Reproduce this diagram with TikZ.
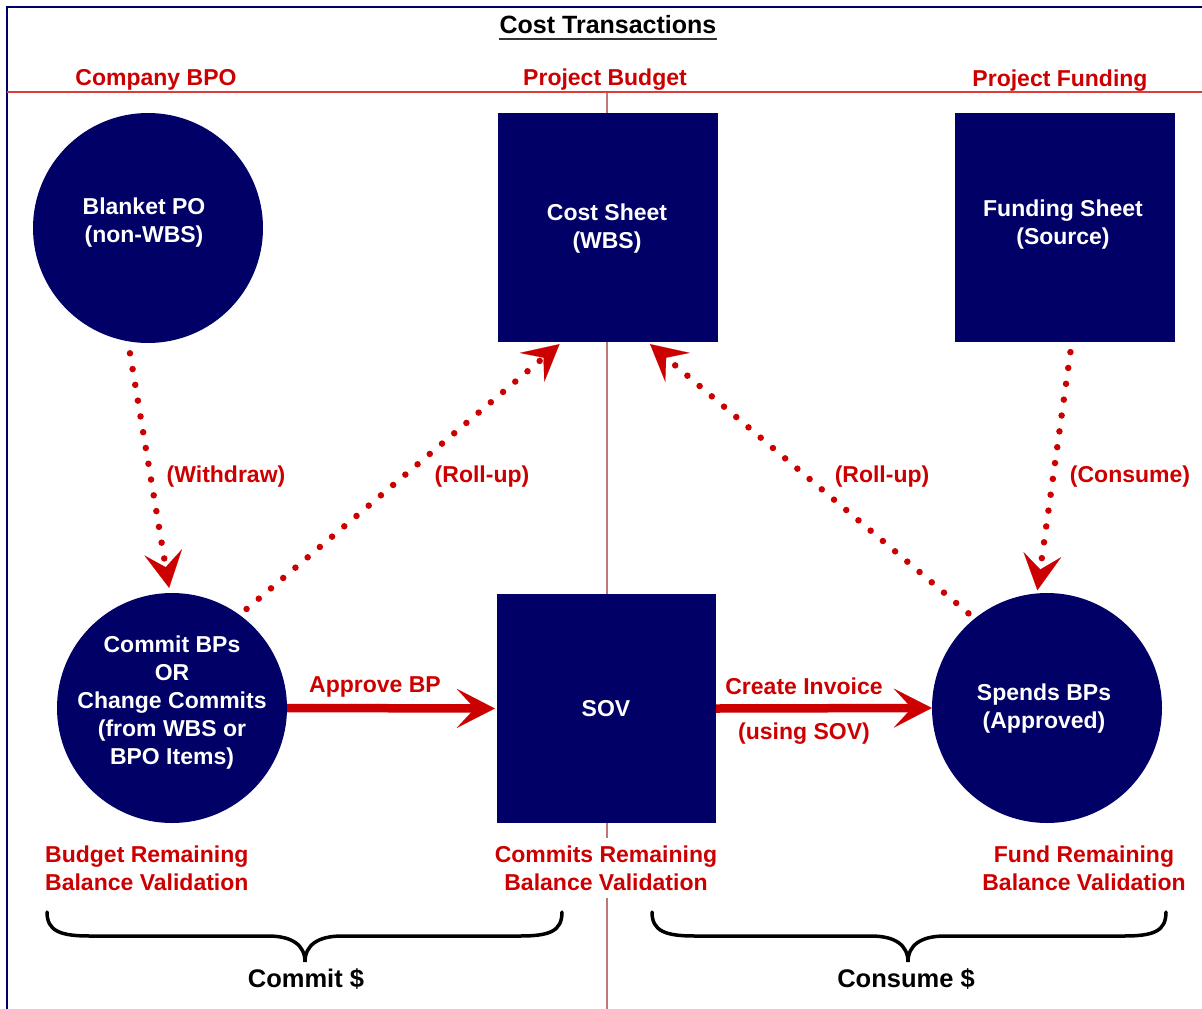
\documentclass[tikz,border=0pt]{standalone}
\usepackage{fontspec}
\setmainfont{Liberation Sans}
\usetikzlibrary{arrows.meta,calc}
\definecolor{navy}{RGB}{0,0,102}
\definecolor{rd}{RGB}{204,0,0}
\definecolor{rline}{RGB}{220,60,60}
\definecolor{vline}{RGB}{190,120,120}
\begin{document}
\begin{tikzpicture}[x=1pt,y=-1pt,
 shapebox/.style={rectangle, fill=navy, draw=none, inner sep=0pt, minimum width=220pt, minimum height=229pt},
 shapecirc/.style={circle, fill=navy, draw=none, inner sep=0pt, minimum size=230pt},
 wtxt/.style={text=white, font=\fontsize{23}{28}\selectfont\bfseries, align=center, inner sep=0pt, yshift=-3pt},
 rtxt/.style={text=rd, font=\fontsize{23}{28}\selectfont\bfseries, align=center, inner sep=0pt, yshift=-3pt},
 btxt/.style={text=black, font=\fontsize{25.5}{30}\selectfont\bfseries, inner sep=0pt, yshift=-2pt},
 dotarrow/.style={draw=rd, line width=6.5pt, line cap=round, dash pattern=on 0pt off 16pt,
   -{Stealth[length=36pt,width=38pt,inset=15pt,line width=0.1pt]}},
 solidarrow/.style={draw=rd, line width=8.5pt,
   -{Stealth[length=38pt,width=39pt,inset=18pt,line width=0.1pt]}},
 bracepath/.style={draw=black, line width=3.5pt, line cap=round}]
\useasboundingbox[fill=white] (0,0) rectangle (1202,1009);

% frame and dividers
\draw[navy, line width=2pt] (7,1009) -- (7,7) -- (1202,7);
\draw[vline, line width=1.2pt] (607,92) -- (607,838);
\draw[vline, line width=1.2pt] (607,898) -- (607,1009);
\draw[rline, line width=2pt] (7,92) -- (1202,92);

% title
\node[btxt, font=\fontsize{25}{30}\selectfont\bfseries] (title) at (608,23) {Cost Transactions};
\draw[line width=2pt, black!80] ([yshift=-5pt]title.base west) -- ([yshift=-5pt]title.base east);

% column headings
\node[rtxt] (hbpo) at (156,77) {Company BPO};
\node[rtxt] (hbud) at (605,77) {Project Budget};
\node[rtxt] (hfund) at (1060,78) {Project Funding};

% shapes
\node[shapecirc] (bpo) at (148,228) {};
\node[shapebox] (cost) at (608,227.5) {};
\node[shapebox] (fund) at (1065,227.5) {};
\node[shapecirc] (commit) at (172,708) {};
\node[shapebox, minimum width=219pt] (sov) at (606.5,708.5) {};
\node[shapecirc] (spends) at (1047,708) {};

% shape texts
\node[wtxt] (bpot) at (144,220) {Blanket PO\\(non-WBS)};
\node[wtxt] (costt) at (607,226) {Cost Sheet\\(WBS)};
\node[wtxt] (fundt) at (1063,222) {Funding Sheet\\(Source)};
\node[wtxt] (committ) at (172,700) {Commit BPs\\OR\\Change Commits\\(from WBS or\\BPO Items)};
\node[wtxt] (sovt) at (606,706) {SOV};
\node[wtxt] (spendst) at (1044,706) {Spends BPs\\(Approved)};

% dotted connectors
\draw[dotarrow, shorten <=12pt, shorten >=5pt] (bpo.260) -- (commit.91);
\draw[dotarrow, shorten <=9pt, shorten >=3pt] (commit.54) -- ([xshift=64pt]cost.south west);
\draw[dotarrow, shorten <=8pt, shorten >=3pt] (spends.129) -- ([xshift=150pt]cost.south west);
\draw[dotarrow, shorten <=10pt, shorten >=3pt] ([xshift=117pt]fund.south west) -- (spends.95);

% solid connectors
\draw[solidarrow, shorten >=2pt] (commit.east) -- (sov.west);
\draw[solidarrow] (sov.east) -- (spends.west);

% connector labels
\node[rtxt] (lw) at (226,474) {(Withdraw)};
\node[rtxt] (lr1) at (482,474) {(Roll-up)};
\node[rtxt] (lr2) at (882,474) {(Roll-up)};
\node[rtxt] (lc) at (1130,474) {(Consume)};
\node[rtxt] (lab) at (375,684) {Approve BP};
\node[rtxt] (lci) at (804,683) {Create Invoice};
\node[rtxt] (lus) at (804,731) {(using SOV)};

% validation labels
\node[rtxt, align=left, anchor=west] (vb) at (45,865) {Budget Remaining\\Balance Validation};
\node[rtxt] (vc) at (606,865) {Commits Remaining\\Balance Validation};
\node[rtxt] (vf) at (1084,865) {Fund Remaining\\Balance Validation};

% braces
\draw[bracepath] (47,912) .. controls (47,931) and (60,936) .. (90,936) -- (268,936)
  .. controls (292,936) and (305,945) .. (305,962)
  .. controls (305,945) and (318,936) .. (342,936) -- (520,936)
  .. controls (550,936) and (562,931) .. (562,912);
\draw[bracepath] (652,912) .. controls (652,931) and (665,936) .. (695,936) -- (871,936)
  .. controls (895,936) and (908,945) .. (908,962)
  .. controls (908,945) and (921,936) .. (945,936) -- (1124,936)
  .. controls (1154,936) and (1166,931) .. (1166,912);

\node[btxt] (cm) at (306,977) {Commit \$};
\node[btxt] (cs) at (906,977) {Consume \$};
\end{tikzpicture}
\end{document}
